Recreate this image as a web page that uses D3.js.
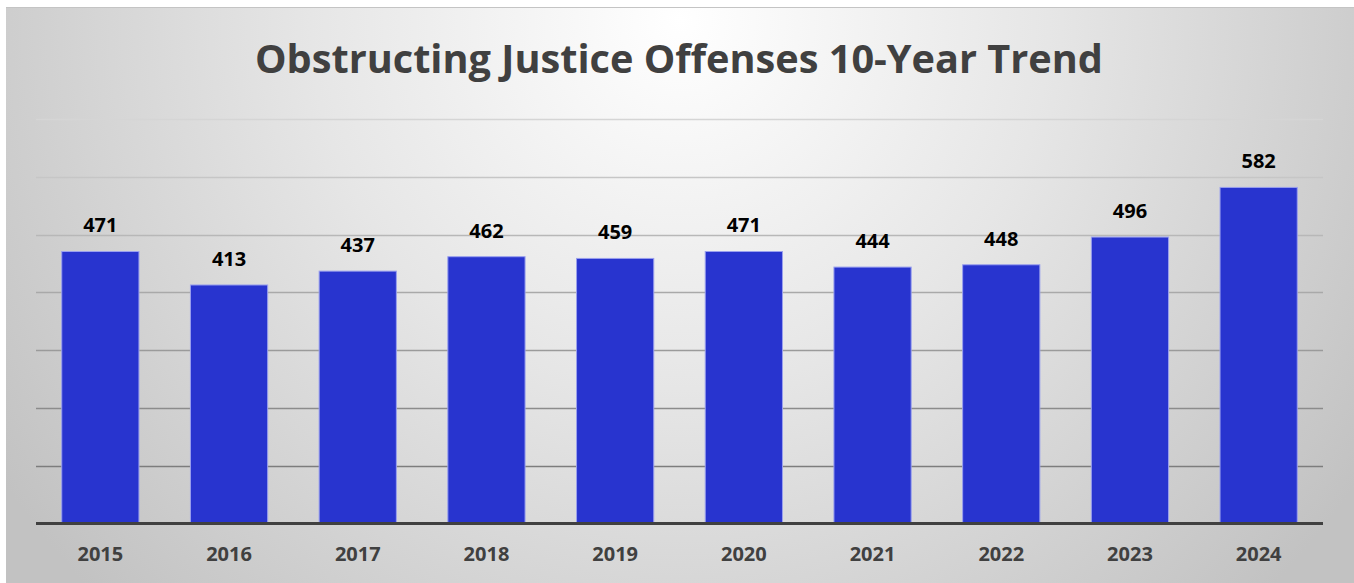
<!DOCTYPE html>
<html><head><meta charset="utf-8">
<script src="https://cdn.jsdelivr.net/npm/d3@7"></script>
<style>html,body{margin:0;padding:0;background:#fff;}svg{display:block;}</style>
</head><body>
<script>
const years = ["2015","2016","2017","2018","2019","2020","2021","2022","2023","2024"];
const offenses = [471,413,437,462,459,471,444,448,496,582];
const gridTicks = [0,100,200,300,400,500,600,700];
const titleText = "Obstructing Justice Offenses 10-Year Trend";

const W = 1354, H = 583;
const svg = d3.select("body").append("svg").attr("width", W).attr("height", H);
const defs = svg.append("defs");
const rg = defs.append("radialGradient").attr("id","bg")
  .attr("gradientUnits","userSpaceOnUse").attr("cx",680).attr("cy",20).attr("r",820);
rg.append("stop").attr("offset","0").attr("stop-color","#ffffff");
rg.append("stop").attr("offset","0.45").attr("stop-color","#e6e6e6");
rg.append("stop").attr("offset","1").attr("stop-color","#c2c2c2");
const lg = defs.append("linearGradient").attr("id","gl").attr("gradientUnits","userSpaceOnUse")
  .attr("x1",0).attr("y1",115).attr("x2",0).attr("y2",470);
lg.append("stop").attr("offset","0").attr("stop-color","#d6d6d6");
lg.append("stop").attr("offset","1").attr("stop-color","#7c7c7c");

svg.append("rect").attr("x",6).attr("y",7).attr("width",W-6).attr("height",H-7).attr("fill","url(#bg)");
svg.append("line").attr("x1",6).attr("x2",W).attr("y1",7.5).attr("y2",7.5).attr("stroke","#c4c4c4");

const x = d3.scaleBand().domain(years).range([36,1323]).paddingInner(0.4).paddingOuter(0.2);
const y = d3.scaleLinear().domain([0,700]).range([523.4,119.3]);

// gridlines
svg.append("g").selectAll("line").data(gridTicks.filter(d=>d>0)).join("line")
  .attr("x1",36).attr("x2",1323)
  .attr("y1",d=>Math.round(y(d))+0.5).attr("y2",d=>Math.round(y(d))+0.5)
  .attr("stroke","url(#gl)").attr("stroke-width",1.5);

// bars
svg.append("g").selectAll("rect").data(years).join("rect")
  .attr("x",(d)=>x(d)).attr("width",x.bandwidth())
  .attr("y",(d,i)=>y(offenses[i])).attr("height",(d,i)=>y(0)-y(offenses[i]))
  .attr("fill","#2834cf").attr("stroke","#9aa0ee").attr("stroke-width",1);

// baseline
svg.append("line").attr("x1",36).attr("x2",1323).attr("y1",y(0)).attr("y2",y(0))
  .attr("stroke","#404040").attr("stroke-width",3);

// value labels
svg.append("g").selectAll("text").data(years).join("text")
  .attr("x",d=>x(d)+x.bandwidth()/2).attr("y",(d,i)=>y(offenses[i])-19)
  .attr("text-anchor","middle").attr("font-family","'Open Sans', sans-serif")
  .attr("font-weight","bold").attr("font-size",20).attr("fill","#000")
  .text((d,i)=>offenses[i]);

// x axis labels
const xAxis = d3.axisBottom(x).tickSize(0).tickPadding(0);
const gx = svg.append("g").attr("transform",`translate(0,${y(0)})`).call(xAxis);
gx.select(".domain").remove();
gx.selectAll("text").attr("dy",null).attr("y",38)
  .attr("font-family","'Open Sans', sans-serif").attr("font-weight","bold")
  .attr("font-size",20).attr("fill","#404040");

// title
const t = svg.append("text").attr("x",679).attr("y",73).attr("text-anchor","middle")
  .attr("font-family","'Open Sans', sans-serif").attr("font-weight","bold")
  .attr("font-size",39).attr("fill","#404040").text(titleText);
const len = t.node().getComputedTextLength();
if (Math.abs(len-848) > 4) t.attr("textLength",848).attr("lengthAdjust","spacingAndGlyphs");
</script>
</body></html>
